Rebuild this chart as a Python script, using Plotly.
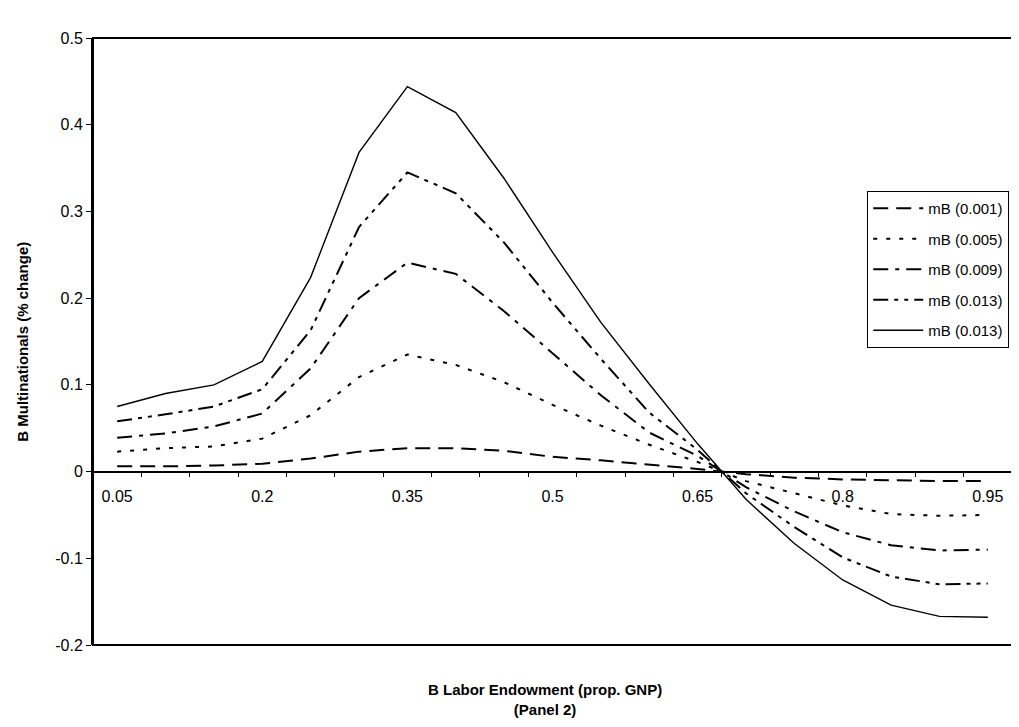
import plotly.graph_objects as go

# Category axis: B labor endowment (proportion of GNP)
labor = ["0.05", "0.1", "0.15", "0.2", "0.25", "0.3", "0.35", "0.4", "0.45", "0.5",
         "0.55", "0.6", "0.65", "0.7", "0.75", "0.8", "0.85", "0.9", "0.95"]
shown_labels = ["0.05", "0.2", "0.35", "0.5", "0.65", "0.8", "0.95"]

# Series values (% change in B multinationals)
mb_0001 = [0.006, 0.006, 0.007, 0.009, 0.015, 0.023, 0.027, 0.027, 0.024, 0.017,
           0.013, 0.008, 0.003, -0.003, -0.007, -0.009, -0.010, -0.011, -0.011]
mb_0005 = [0.023, 0.027, 0.029, 0.038, 0.065, 0.109, 0.135, 0.123, 0.103, 0.077,
           0.053, 0.031, 0.011, -0.011, -0.025, -0.039, -0.049, -0.051, -0.050]
mb_0009 = [0.039, 0.044, 0.052, 0.067, 0.119, 0.200, 0.241, 0.228, 0.185, 0.136,
           0.088, 0.045, 0.018, -0.018, -0.046, -0.070, -0.085, -0.091, -0.090]
mb_0013a = [0.058, 0.066, 0.075, 0.095, 0.163, 0.282, 0.345, 0.321, 0.264, 0.195,
            0.130, 0.068, 0.025, -0.025, -0.064, -0.099, -0.121, -0.130, -0.129]
mb_0013b = [0.075, 0.090, 0.100, 0.127, 0.224, 0.368, 0.444, 0.414, 0.338, 0.253,
            0.172, 0.101, 0.032, -0.032, -0.083, -0.125, -0.154, -0.167, -0.168]

series_names = ["mB (0.001)", "mB (0.005)", "mB (0.009)", "mB (0.013)", "mB (0.013)"]

y_ticks = [-0.2, -0.1, 0, 0.1, 0.2, 0.3, 0.4, 0.5]
y_ticktext = ["-0.2", "-0.1", "0", "0.1", "0.2", "0.3", "0.4", "0.5"]

FONT = "Liberation Sans, Arial, sans-serif"

styles = [
    dict(dash="15px,8px", width=2),
    dict(dash="4px,9px", width=2),
    dict(dash="15px,7px,4px,7px", width=2),
    dict(dash="15px,6px,4px,6px,4px,6px", width=2),
    dict(dash="solid", width=1.4),
]

fig = go.Figure()
for i, (name, vals, st) in enumerate(zip(series_names,
                                         [mb_0001, mb_0005, mb_0009, mb_0013a, mb_0013b],
                                         styles)):
    fig.add_trace(go.Scatter(
        x=labor, y=vals, name=name, mode="lines",
        line=dict(color="black", dash=st["dash"], width=st["width"]),
        legendgroup=f"g{i}",
    ))

y_min, y_max = -0.2, 0.5
zero_pos = (0 - y_min) / (y_max - y_min)

# the page body adds an 8px offset, so the figure is 8px smaller and margins shifted
fig.update_layout(
    width=1011, height=719,
    margin=dict(l=85, r=7, t=30, b=82),
    paper_bgcolor="white", plot_bgcolor="white",
    font=dict(family=FONT, size=16, color="black"),
    showlegend=True,
    legend=dict(
        x=0.997, y=0.748, xanchor="right", yanchor="top",
        bordercolor="black", borderwidth=1, bgcolor="white",
        font=dict(family=FONT, size=15, color="black"),
        tracegroupgap=8, itemwidth=50,
    ),
    xaxis=dict(
        type="category",
        categoryorder="array", categoryarray=labor,
        range=[-0.5, len(labor) - 0.5],
        anchor="free", position=zero_pos, side="bottom",
        showline=True, linecolor="black", linewidth=1.5,
        tickmode="array", tickvals=labor,
        ticktext=[lab if lab in shown_labels else "" for lab in labor],
        tickson="boundaries",
        ticks="outside", ticklen=5, tickcolor="black", tickwidth=1,
        ticklabelstandoff=10,
        showgrid=False, zeroline=False,
        tickfont=dict(family=FONT, size=16, color="black"),
    ),
    yaxis=dict(
        range=[y_min, y_max],
        tickmode="array", tickvals=y_ticks, ticktext=y_ticktext,
        ticks="outside", ticklen=5, tickcolor="black",
        showline=True, linecolor="black", linewidth=2,
        showgrid=False, zeroline=False,
        tickfont=dict(family=FONT, size=16, color="black"),
    ),
)

# plot-area frame
fig.add_shape(type="rect", xref="paper", yref="paper", x0=0, y0=0, x1=1, y1=1,
              line=dict(color="black", width=2), fillcolor="rgba(0,0,0,0)", layer="above")

fig.add_annotation(
    text="<b>B Labor Endowment (prop. GNP)</b><br><b>(Panel 2)</b>",
    xref="paper", yref="paper", x=0.492, y=-0.056, xanchor="center", yanchor="top",
    showarrow=False, font=dict(family=FONT, size=15, color="black"),
)
fig.add_annotation(
    text="<b>B Multinationals (% change)</b>",
    xref="paper", yref="paper", x=-0.077, y=0.5, xanchor="center", yanchor="middle",
    textangle=-90, showarrow=False, font=dict(family=FONT, size=15, color="black"),
)

fig.write_html("out.html")
